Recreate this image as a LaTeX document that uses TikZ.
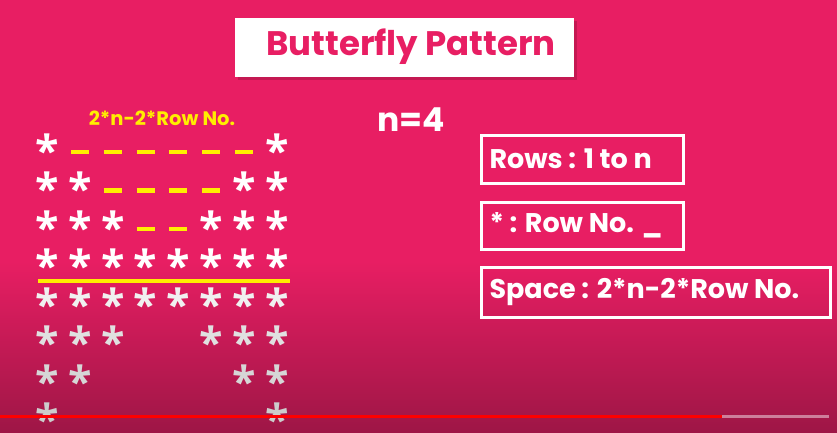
\documentclass[tikz,border=0pt]{standalone}
\usepackage{fontspec}
\setmainfont{Poppins}
\newfontfamily\starfont{Open Sans}
\usetikzlibrary{calc}

\definecolor{bgpink}{RGB}{232,30,99}
\definecolor{bgdark}{RGB}{158,22,70}
\definecolor{shadepink}{RGB}{196,24,82}
\definecolor{gapyellow}{RGB}{255,238,0}

\tikzset{
  infobox/.style={draw=white, line width=3pt, anchor=west, inner xsep=8pt,
    inner ysep=0pt, text=white,
    font=\bfseries\fontsize{27}{27}\selectfont},
  staricon/.style={inner sep=0pt, yshift=-3pt,
    font=\starfont\bfseries\fontsize{43}{43}\selectfont},
  gapdash/.style={gapyellow, line width=4.5pt},
}

\begin{document}
\begin{tikzpicture}[x=1pt, y=-1pt]

    % =========================================================================
    % BACKGROUND
    % =========================================================================
    \useasboundingbox (0,0) rectangle (837,432);
    \fill[bgpink] (0,0) rectangle (837,262);
    \shade[top color=bgpink, bottom color=bgdark] (0,261) rectangle (837,432);

    % --- Title ---
    \fill[shadepink] (238,21) rectangle (577,80);
    \fill[white] (235,18) rectangle (574,77);
    \node[text=bgpink, font=\bfseries\fontsize{34}{34}\selectfont]
          (title) at (411,47) {Butterfly Pattern};

    % =========================================================================
    % LEFT: STAR PATTERN
    % =========================================================================
    \node[text=gapyellow, font=\bfseries\fontsize{19.5}{19.5}\selectfont]
          (gaplabel) at (162,118) {2*n-2*Row No.};

    % --- Upper half ---
    \foreach \c in {1,8}
        \node[staricon, text=white] (s1-\c) at ({47+(\c-1)*32.86},147) {*};
    \foreach \c in {2,...,7}
        \draw[gapdash] ({38+(\c-1)*32.86},152) -- ++(18,0);

    \foreach \c in {1,2,7,8}
        \node[staricon, text=white] (s2-\c) at ({47+(\c-1)*32.86},185.5) {*};
    \foreach \c in {3,...,6}
        \draw[gapdash] ({38+(\c-1)*32.86},190.5) -- ++(18,0);

    \foreach \c in {1,2,3,6,7,8}
        \node[staricon, text=white] (s3-\c) at ({47+(\c-1)*32.86},224) {*};
    \foreach \c in {4,5}
        \draw[gapdash] ({38+(\c-1)*32.86},229) -- ++(18,0);

    \foreach \c in {1,...,8}
        \node[staricon, text=white] (s4-\c) at ({47+(\c-1)*32.86},262.5) {*};

    % --- Divider ---
    \coordinate (cut-l) at (38,281);
    \coordinate (cut-r) at (290,281);
    \draw[gapyellow, line width=4.5pt] (cut-l) -- (cut-r);

    % --- Lower half ---
    \foreach \c in {1,...,8}
        \node[staricon, text=white!94!black] (s5-\c) at ({47+(\c-1)*32.86},301) {*};
    \foreach \c in {1,2,3,6,7,8}
        \node[staricon, text=white!88!black] (s6-\c) at ({47+(\c-1)*32.86},339.5) {*};
    \foreach \c in {1,2,7,8}
        \node[staricon, text=white!84!black] (s7-\c) at ({47+(\c-1)*32.86},378) {*};
    \foreach \c in {1,8}
        \node[staricon, text=white!80!black] (s8-\c) at ({47+(\c-1)*32.86},416.5) {*};

    % =========================================================================
    % RIGHT: RULES
    % =========================================================================
    \node[text=white, font=\bfseries\fontsize{33}{33}\selectfont]
          (nval) at (411,120) {n=4};

    \node[infobox, minimum height=48pt]
          (rows) at (480,159) {\makebox[186pt][l]{Rows : 1 to n}};
    \node[infobox, minimum height=47pt]
          (stars) at (480,225.5) {\makebox[186pt][l]{* : Row No. \_}};
    \node[infobox, minimum height=50pt]
          (space) at (480,292) {\makebox[333pt][l]{Space : 2*n-2*Row No.}};

    % --- Progress bar ---
    \draw[red, line width=3pt] (0,416.5) -- (722,416.5);
    \draw[white, opacity=0.45, line width=3pt] (722,416.5) -- (829,416.5);

\end{tikzpicture}
\end{document}
